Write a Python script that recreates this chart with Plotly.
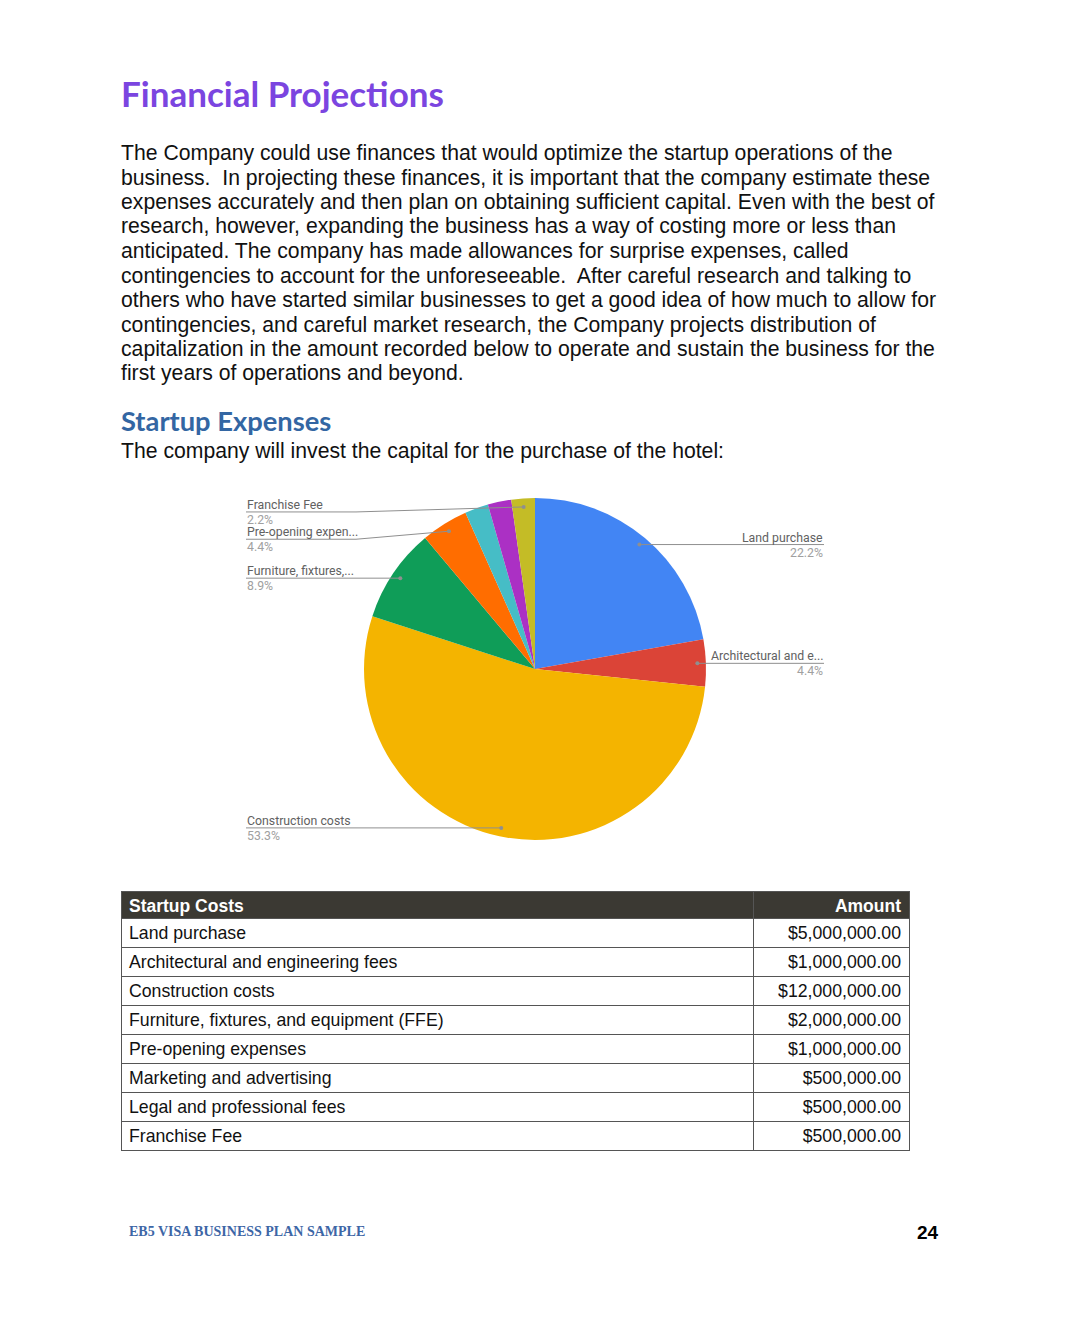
import math
import plotly.graph_objects as go

# ---------------- data ----------------
categories = ["Land purchase", "Architectural and engineering fees", "Construction costs",
              "Furniture, fixtures, and equipment (FFE)", "Pre-opening expenses",
              "Marketing and advertising", "Legal and professional fees", "Franchise Fee"]
amounts = [5000000, 1000000, 12000000, 2000000, 1000000, 500000, 500000, 500000]
pie_short_labels = ["Land purchase", "Architectural and e...", "Construction costs",
                    "Furniture, fixtures,...", "Pre-opening expen...", None, None, "Franchise Fee"]
slice_colors = ["#4285F4", "#DB4437", "#F4B400", "#0F9D58", "#FF6D00", "#46BDC6", "#AB30C4", "#C4BC26"]

title_text = "Financial Projections"
paragraph_lines = [
    "The Company could use finances that would optimize the startup operations of the",
    "business.  In projecting these finances, it is important that the company estimate these",
    "expenses accurately and then plan on obtaining sufficient capital. Even with the best of",
    "research, however, expanding the business has a way of costing more or less than",
    "anticipated. The company has made allowances for surprise expenses, called",
    "contingencies to account for the unforeseeable.  After careful research and talking to",
    "others who have started similar businesses to get a good idea of how much to allow for",
    "contingencies, and careful market research, the Company projects distribution of",
    "capitalization in the amount recorded below to operate and sustain the business for the",
    "first years of operations and beyond.",
]
subheading_text = "Startup Expenses"
intro_text = "The company will invest the capital for the purchase of the hotel:"
table_header = ["Startup Costs", "Amount"]
footer_left = "EB5 VISA BUSINESS PLAN SAMPLE"
footer_right = "24"

# ---------------- layout helpers ----------------
W, H = 1070, 1340


def px(x):
    return x / W


def py(y):
    return 1 - y / H


fig = go.Figure()

# ---------------- pie ----------------
pie_left, pie_right, pie_top, pie_bottom = 364, 706, 498, 840
fig.add_trace(go.Pie(
    labels=categories, values=amounts, sort=False, direction="clockwise", rotation=0,
    marker=dict(colors=slice_colors, line=dict(width=0)),
    textinfo="none", hoverinfo="label+percent+value", showlegend=False,
    domain=dict(x=[px(pie_left), px(pie_right)], y=[py(pie_bottom), py(pie_top)]),
))

cx = (pie_left + pie_right) / 2
cy = (pie_top + pie_bottom) / 2
R = min(pie_right - pie_left, pie_bottom - pie_top) / 2
total = sum(amounts)
label_nudge = {4: 8, 7: 5}
right_x, left_x = 824, 246
lead_color = "#8f8f8f"
cum = 0
shapes = []
annotations = []
for i, v in enumerate(amounts):
    frac = v / total
    mid = (cum + frac / 2) * 2 * math.pi
    cum += frac
    if pie_short_labels[i] is None:
        continue
    dx = cx + 0.95 * R * math.sin(mid)
    dy = cy - 0.95 * R * math.cos(mid)
    ly = dy + label_nudge.get(i, 0)
    right = math.sin(mid) > 0
    lx = right_x if right else left_x
    if label_nudge.get(i, 0):
        bx = lx + 110
        path = f"M {px(lx)},{py(ly)} L {px(bx)},{py(ly)} L {px(dx)},{py(dy)}"
    else:
        path = f"M {px(lx)},{py(ly)} L {px(dx)},{py(dy)}"
    shapes.append(dict(type="path", path=path, xref="paper", yref="paper",
                       line=dict(color=lead_color, width=1)))
    shapes.append(dict(type="circle", xref="paper", yref="paper",
                       x0=px(dx - 2), x1=px(dx + 2), y0=py(dy + 2), y1=py(dy - 2),
                       fillcolor=lead_color, line=dict(width=0)))
    anchor = "right" if right else "left"
    annotations.append(dict(x=px(lx), y=py(ly - 7), xref="paper", yref="paper",
                            text=pie_short_labels[i], showarrow=False, xanchor=anchor,
                            yanchor="middle", borderpad=0,
                            font=dict(family="Roboto", size=12.3, color="#616161")))
    annotations.append(dict(x=px(lx), y=py(ly + 8), xref="paper", yref="paper",
                            text=f"{frac * 100:.1f}%", showarrow=False, xanchor=anchor,
                            yanchor="middle", borderpad=0,
                            font=dict(family="Roboto", size=12.3, color="#a0a0a0")))

# ---------------- page text ----------------
annotations.append(dict(x=px(119), y=py(93), xref="paper", yref="paper", text=f"<b>{title_text}</b>",
                        showarrow=False, xanchor="left", yanchor="middle",
                        font=dict(family="Lato", size=35, color="#7B45E0")))
for k, line in enumerate(paragraph_lines):
    annotations.append(dict(x=px(119), y=py(153 + 24.5 * k), xref="paper", yref="paper", text=line,
                            showarrow=False, xanchor="left", yanchor="middle",
                            font=dict(family="Liberation Sans", size=21.2, color="#111111")))
annotations.append(dict(x=px(119), y=py(420), xref="paper", yref="paper", text=f"<b>{subheading_text}</b>",
                        showarrow=False, xanchor="left", yanchor="middle",
                        font=dict(family="Lato", size=27.3, color="#3366A3")))
annotations.append(dict(x=px(119), y=py(451), xref="paper", yref="paper", text=intro_text,
                        showarrow=False, xanchor="left", yanchor="middle",
                        font=dict(family="Liberation Sans", size=21.2, color="#111111")))
annotations.append(dict(x=px(127), y=py(1231), xref="paper", yref="paper", text=f"<b>{footer_left}</b>",
                        showarrow=False, xanchor="left", yanchor="middle",
                        font=dict(family="Liberation Serif", size=14, color="#3D66A6")))
annotations.append(dict(x=px(941), y=py(1232), xref="paper", yref="paper", text=f"<b>{footer_right}</b>",
                        showarrow=False, xanchor="right", yanchor="middle",
                        font=dict(family="Liberation Sans", size=19, color="#000000")))

# ---------------- table ----------------
fig.add_trace(go.Table(
    domain=dict(x=[px(121), px(909)], y=[py(1170), py(891)]),
    columnwidth=[632, 156],
    header=dict(values=table_header, fill_color="#3B3933",
                font=dict(family="Liberation Sans", size=17.5, color="white", weight="bold"),
                align=["left", "right"], height=27, line=dict(color="#555555", width=1)),
    cells=dict(values=[categories, amounts], format=[None, "$,.2f"], fill_color="white",
               font=dict(family="Liberation Sans", size=17.7, color="#111111"),
               align=["left", "right"], height=29, line=dict(color="#555555", width=1)),
))

fig.update_layout(width=W, height=H, margin=dict(l=0, r=0, t=0, b=0),
                  paper_bgcolor="white", plot_bgcolor="white",
                  shapes=shapes, annotations=annotations,
                  font=dict(family="Liberation Sans"))

fig.write_html("out.html", config={"displayModeBar": False},
               post_script="document.body.style.margin='0';document.body.style.overflow='hidden';")
